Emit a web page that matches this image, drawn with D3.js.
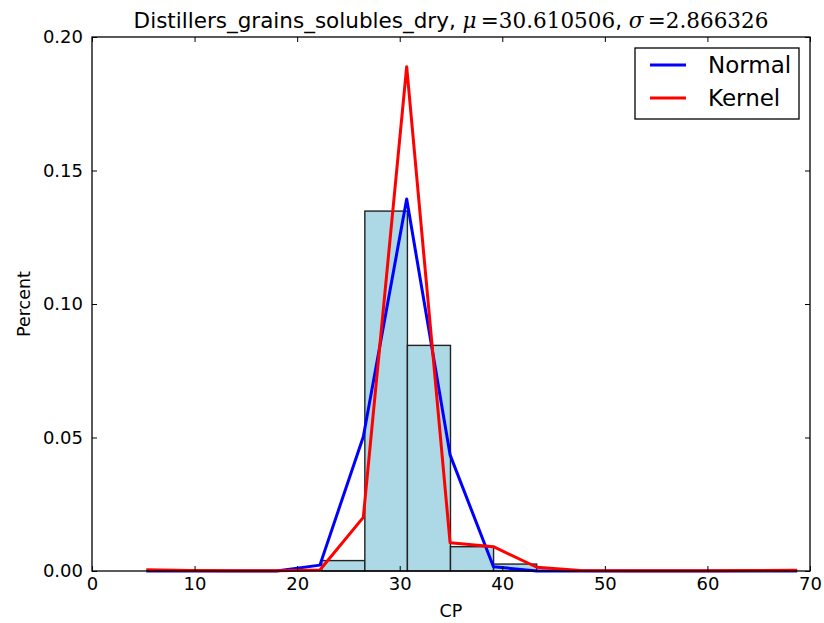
<!DOCTYPE html>
<html>
<head>
<meta charset="utf-8">
<script src="https://cdn.jsdelivr.net/npm/d3@7"></script>
<style>
  body { margin: 0; background: #fff; }
  svg { display: block; font-family: "DejaVu Sans", sans-serif; }
</style>
</head>
<body>
<svg id="chart" width="824" height="623"></svg>
<script>
// histogram bins (CP) and their heights
const binEdges = [22.4, 26.6, 30.75, 34.95, 39.15, 43.35];
const binHeights = [0.0039, 0.1348, 0.0845, 0.0091, 0.0026];

// curve sample points
const curveX = [5.3, 9.53, 13.76, 17.99, 22.22, 26.45, 30.68, 34.91, 39.14, 43.37, 47.6, 51.83, 56.06, 60.29, 64.52, 68.75];
const normalY = [0, 0, 0, 0.00001, 0.0022, 0.0503, 0.1393, 0.0435, 0.0016, 0.00001, 0, 0, 0, 0, 0, 0];
const kernelY = [0.0005, 0.0002, 0.0001, 0.0001, 0.0004, 0.0201, 0.1889, 0.0106, 0.0091, 0.0014, 0.0002, 0.0001, 0.0001, 0.0001, 0.0002, 0.0003];

const xTicks = [0, 10, 20, 30, 40, 50, 60, 70];
const yTicks = [0, 0.05, 0.10, 0.15, 0.20];

// plot box
const margin = { top: 37, right: 14, bottom: 52, left: 92 };
const width = 824 - margin.left - margin.right;
const height = 623 - margin.top - margin.bottom;

const xScale = d3.scaleLinear().domain([0, 70]).range([0, width]);
const yScale = d3.scaleLinear().domain([0, 0.2]).range([height, 0]);

const svg = d3.select("#chart");
const g = svg.append("g")
    .attr("transform", "translate(" + margin.left + "," + margin.top + ")");

// bars
const bins = binHeights.map((h, i) => ({ x0: binEdges[i], x1: binEdges[i + 1], h: h }));
g.selectAll("rect.bar")
    .data(bins)
    .enter()
    .append("rect")
    .attr("class", "bar")
    .attr("x", d => xScale(d.x0))
    .attr("y", d => yScale(d.h))
    .attr("width", d => xScale(d.x1) - xScale(d.x0))
    .attr("height", d => yScale(0) - yScale(d.h))
    .attr("fill", "#add8e6")
    .attr("stroke", "#222")
    .attr("stroke-width", 1.4);

// curves
const line = d3.line().x(d => xScale(d[0])).y(d => yScale(d[1]));
g.append("path")
    .datum(curveX.map((x, i) => [x, normalY[i]]))
    .attr("d", line)
    .attr("fill", "none")
    .attr("stroke", "#0000ff")
    .attr("stroke-width", 3)
    .attr("stroke-linejoin", "round");
g.append("path")
    .datum(curveX.map((x, i) => [x, kernelY[i]]))
    .attr("d", line)
    .attr("fill", "none")
    .attr("stroke", "#ff0000")
    .attr("stroke-width", 3)
    .attr("stroke-linejoin", "round");

// axes (classic matplotlib: ticks inside, on all sides)
const fmtY = d3.format(".2f");
const bottomAxis = g.append("g")
    .attr("transform", "translate(0," + height + ")")
    .call(d3.axisBottom(xScale).tickValues(xTicks).tickSizeInner(-5).tickSizeOuter(0).tickPadding(6));
const topAxis = g.append("g")
    .call(d3.axisTop(xScale).tickValues(xTicks).tickSizeInner(-5).tickSizeOuter(0).tickFormat(""));
const leftAxis = g.append("g")
    .call(d3.axisLeft(yScale).tickValues(yTicks).tickSizeInner(-5).tickSizeOuter(0).tickPadding(9).tickFormat(fmtY));
const rightAxis = g.append("g")
    .attr("transform", "translate(" + width + ",0)")
    .call(d3.axisRight(yScale).tickValues(yTicks).tickSizeInner(-5).tickSizeOuter(0).tickFormat(""));

[bottomAxis, topAxis, leftAxis, rightAxis].forEach(a => {
    a.select(".domain").remove();
    a.selectAll(".tick line").attr("stroke", "#000").attr("stroke-width", 1);
    a.selectAll("text")
        .attr("font-family", "DejaVu Sans, sans-serif")
        .attr("font-size", 18)
        .attr("fill", "#000");
});

// frame
g.append("rect")
    .attr("x", 0).attr("y", 0)
    .attr("width", width).attr("height", height)
    .attr("fill", "none")
    .attr("stroke", "#000")
    .attr("stroke-width", 1.3);

// axis labels
svg.append("text")
    .attr("x", margin.left + width / 2)
    .attr("y", 617)
    .attr("text-anchor", "middle")
    .attr("font-size", 17.5)
    .text("CP");
svg.append("text")
    .attr("transform", "rotate(-90)")
    .attr("x", -(margin.top + height / 2))
    .attr("y", 30)
    .attr("text-anchor", "middle")
    .attr("font-size", 17.5)
    .text("Percent");

// title with math parts
const title = svg.append("text")
    .attr("x", margin.left + width / 2)
    .attr("y", 28)
    .attr("text-anchor", "middle")
    .attr("font-size", 21.5);
title.append("tspan").text("Distillers_grains_solubles_dry, ");
title.append("tspan").attr("font-family", "DejaVu Serif, serif").attr("font-style", "italic").text("μ");
title.append("tspan").attr("font-family", "DejaVu Serif, serif").text("\u2009=30.610506");
title.append("tspan").text(", ");
title.append("tspan").attr("font-family", "DejaVu Serif, serif").attr("font-style", "italic").text("σ");
title.append("tspan").attr("font-family", "DejaVu Serif, serif").text("\u2009=2.866326");

// legend
const legendItems = [
    { name: "Normal", color: "#0000ff" },
    { name: "Kernel", color: "#ff0000" }
];
const legend = svg.append("g").attr("transform", "translate(635,48)");
legend.append("rect")
    .attr("width", 164).attr("height", 71)
    .attr("fill", "#fff")
    .attr("stroke", "#000")
    .attr("stroke-width", 1.3);
legendItems.forEach((d, i) => {
    const y = 17 + i * 33;
    legend.append("line")
        .attr("x1", 15).attr("x2", 51)
        .attr("y1", y).attr("y2", y)
        .attr("stroke", d.color)
        .attr("stroke-width", 3);
    legend.append("text")
        .attr("x", 73).attr("y", y + 8)
        .attr("font-size", 23)
        .text(d.name);
});
</script>
</body>
</html>
